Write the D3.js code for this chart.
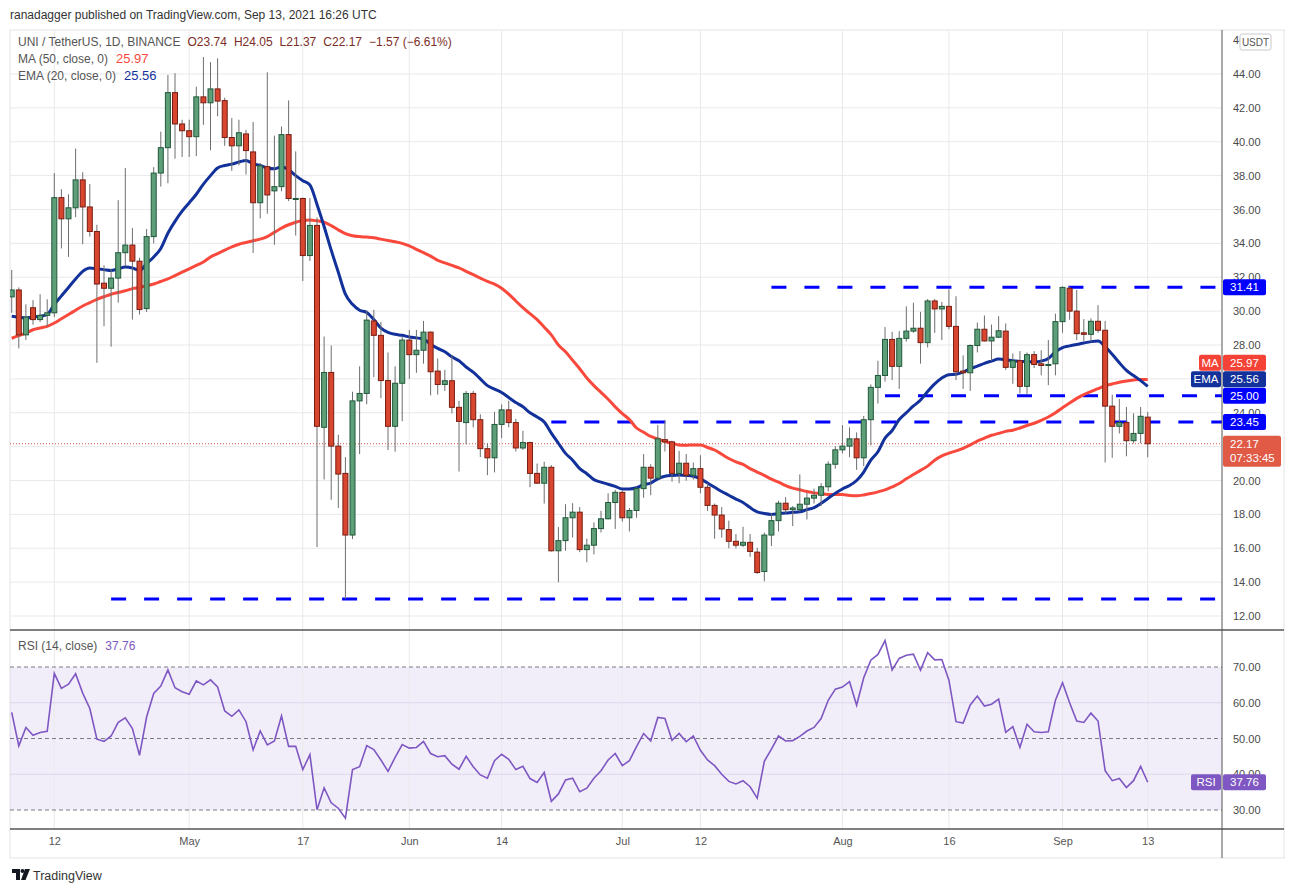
<!DOCTYPE html>
<meta charset="utf-8">
<style>
  body { margin: 0; background: #fff; }
  svg { font-family: "Liberation Sans", Arial, sans-serif; }
  .tick text { font-size: 11px; fill: #4a4a4a; }
  .grid line { stroke: #e9e9ec; stroke-width: 1px; }
</style>
<body>
<script src="https://d3js.org/d3.v7.min.js"></script>
<script>

  // first candle is 2021-04-06, one candle per day
  var firstDay = Date.UTC(2021, 3, 6);

  // [open, high, low, close]
  var ohlc = [
    [30.84,32.43,29.9,31.25],[31.25,31.4,27.8,28.6],[28.6,30.4,28.3,29.65],[30.2,30.65,29.2,29.5],
    [29.5,31.0,29.35,29.75],[29.75,30.7,29.1,29.9],[29.9,38.15,29.65,36.7],[36.7,37.2,33.7,35.45],
    [35.45,36.9,33.2,36.1],[36.1,39.6,35.55,37.75],[37.75,38.2,33.95,36.15],[36.15,37.5,34.4,34.7],
    [34.7,35.1,26.95,31.6],[31.65,32.7,29.1,31.35],[31.35,32.5,27.9,31.95],[31.95,36.55,30.5,33.45],
    [33.45,38.45,32.65,33.9],[33.9,34.9,29.5,32.95],[32.95,33.15,29.8,30.1],[30.15,34.85,29.95,34.4],
    [34.4,38.5,34.0,38.15],[38.15,40.6,37.35,39.65],[39.65,43.95,37.55,42.9],[42.9,44.05,39.0,41.05],
    [41.05,41.3,39.1,40.65],[40.65,41.3,39.1,40.3],[40.3,43.25,39.15,42.65],[42.65,45.0,41.0,42.3],
    [42.3,44.7,39.5,43.12],[43.12,44.92,41.5,42.4],[42.43,42.6,39.76,40.25],[40.25,41.4,38.28,39.76],
    [39.76,41.3,38.6,40.53],[40.46,40.7,38.06,39.48],[39.4,41.17,33.43,36.4],[36.4,38.75,35.47,38.58],
    [38.53,44.1,35.75,36.86],[37.1,40.36,33.92,37.35],[37.35,40.9,37.08,40.42],[40.42,42.44,36.5,36.65],
    [36.65,39.43,34.46,36.65],[36.65,36.7,31.78,33.28],[33.28,36.67,32.96,35.06],[35.06,35.53,16.07,23.2],
    [23.14,28.5,20.06,26.38],[26.38,27.97,18.86,22.03],[22.03,22.7,18.38,20.38],[20.42,21.38,13.0,16.78],
    [16.78,25.24,16.54,24.7],[24.7,26.74,21.56,25.14],[25.14,30.05,24.5,29.47],[29.42,30.07,26.1,28.57],
    [28.57,29.36,24.86,25.9],[25.9,27.56,21.8,23.2],[23.2,26.74,21.7,25.74],[25.74,28.5,23.5,28.29],
    [28.29,28.89,26.0,27.43],[27.43,28.89,26.36,27.69],[27.69,29.42,26.9,28.76],[28.76,28.8,25.03,26.42],
    [26.46,27.2,25.07,25.67],[25.67,26.53,25.29,25.89],[25.89,27.39,23.96,24.32],[24.32,24.71,20.53,23.49],
    [23.42,25.29,22.13,25.14],[25.14,25.29,23.14,23.59],[23.59,23.91,21.38,21.88],[21.88,22.2,20.31,21.34],
    [21.34,24.06,20.48,23.31],[23.31,24.49,22.5,24.17],[24.17,24.71,23.14,23.42],[23.42,23.64,21.71,21.92],
    [21.92,22.93,21.81,22.24],[22.24,22.28,19.6,20.42],[20.42,21.0,19.8,19.84],[19.84,21.11,18.64,20.78],
    [20.78,20.91,15.8,15.85],[15.85,17.25,13.99,16.45],[16.45,18.6,15.85,17.8],[17.8,18.66,16.63,18.13],
    [18.13,18.43,15.77,15.92],[15.92,16.56,15.17,16.18],[16.18,17.53,15.64,17.16],[17.16,18.21,16.93,17.74],
    [17.74,19.24,17.7,18.7],[18.7,19.45,17.14,19.3],[19.3,19.4,17.57,17.8],[17.8,18.38,16.99,18.23],
    [18.23,19.63,17.8,19.52],[19.52,21.56,18.98,20.78],[20.78,20.96,19.13,20.14],[20.14,23.27,20.1,22.46],
    [22.41,23.57,21.71,22.28],[22.28,22.35,19.93,20.42],[20.42,21.75,19.84,21.02],[21.02,21.56,19.99,20.31],
    [20.31,21.06,20.05,20.7],[20.7,21.49,19.24,19.6],[19.6,19.84,18.21,18.53],[18.53,18.64,16.56,17.96],
    [17.96,18.43,16.63,17.14],[17.1,17.63,16.0,16.41],[16.41,16.84,15.99,16.18],[16.18,17.27,16.07,16.35],
    [16.35,16.84,15.49,15.81],[15.77,16.03,14.48,14.57],[14.63,16.93,14.05,16.78],[16.78,18.06,16.13,17.63],
    [17.63,18.81,16.99,18.66],[18.66,19.02,18.06,18.28],[18.28,18.49,17.31,18.38],[18.28,20.36,18.17,18.6],
    [18.6,19.28,17.7,18.96],[18.96,19.52,18.64,19.13],[19.13,19.84,18.49,19.63],[19.63,21.13,19.35,20.96],
    [20.96,22.03,20.7,21.81],[21.81,23.27,21.6,22.03],[22.03,23.14,21.38,22.46],[22.46,22.84,20.63,21.34],
    [21.34,23.81,20.85,23.59],[23.59,25.67,22.07,25.5],[25.5,27.07,24.54,26.2],[26.2,29.06,25.84,28.33],
    [28.33,28.78,25.93,26.74],[26.74,28.82,25.41,28.39],[28.39,30.28,28.2,28.82],[28.82,30.5,28.72,28.99],
    [28.99,29.96,26.9,28.14],[28.14,30.71,27.86,30.6],[30.6,30.71,28.72,30.13],[30.13,30.54,28.29,30.28],
    [30.28,31.29,28.93,29.1],[29.1,30.88,25.93,26.42],[26.46,27.39,25.41,26.36],[26.36,28.03,25.29,27.97],
    [27.97,29.32,27.56,28.93],[28.93,29.74,28.2,28.24],[28.24,29.21,27.07,28.46],[28.46,29.7,28.41,28.84],
    [28.82,29.27,26.53,26.68],[26.68,27.5,25.71,27.07],[27.07,27.64,25.14,25.56],[25.56,27.56,25.07,27.43],
    [27.43,27.64,26.64,26.85],[26.89,27.69,26.21,26.79],[26.79,28.29,25.63,26.85],[26.89,29.85,26.21,29.38],
    [29.38,31.46,28.72,31.4],[31.35,31.46,29.49,30.0],[30.0,31.25,28.29,28.67],[28.72,29.53,28.24,28.63],
    [28.63,29.57,28.2,29.4],[29.4,30.35,28.72,28.87],[28.87,29.42,21.06,24.39],[24.39,25.07,21.34,23.2],
    [23.2,24.81,22.78,23.42],[23.42,24.34,21.43,22.35],[22.35,23.96,22.2,22.78],[22.78,24.34,22.2,23.79],
    [23.74,24.05,21.37,22.17]
  ];

  var ema20 = [
    29.7,29.65,29.6,29.65,29.7,29.8,30.4,30.9,31.4,31.9,32.35,32.55,32.5,32.45,32.4,32.5,32.6,32.55,32.4,32.8,
    33.2,33.7,34.6,35.3,35.9,36.4,36.9,37.5,38.0,38.45,38.6,38.68,38.8,38.9,38.7,38.6,38.45,38.4,38.53,38.35,
    38.0,37.7,37.45,36.3,35.0,33.6,32.3,31.0,30.4,30.05,29.92,29.5,29.0,28.75,28.63,28.57,28.47,28.42,28.35,28.05,
    27.8,27.6,27.3,27.07,26.7,26.4,26.0,25.6,25.4,25.2,24.9,24.6,24.35,24.0,23.75,23.45,22.8,22.2,21.6,21.2,
    20.7,20.4,20.05,19.9,19.78,19.65,19.5,19.5,19.57,19.75,19.85,20.1,20.25,20.3,20.32,20.3,20.25,20.1,19.85,19.6,
    19.35,19.13,18.9,18.7,18.4,18.15,18.05,18.0,18.05,18.08,18.12,18.15,18.28,18.4,18.65,18.95,19.25,19.5,19.7,20.0,
    20.5,21.2,21.7,22.5,22.95,23.6,24.0,24.4,24.75,25.25,25.7,26.05,26.25,26.27,26.4,26.6,26.75,26.92,27.05,27.17,
    27.13,27.07,27.03,27.02,27.0,27.05,27.2,27.6,27.85,27.95,28.03,28.12,28.2,28.24,27.9,27.45,26.95,26.5,26.2,25.9,
    25.56
  ];

  var ma50 = [
    28.4,28.55,28.7,28.9,29.0,29.1,29.3,29.55,29.8,30.05,30.3,30.5,30.7,30.85,31.0,31.1,31.2,31.33,31.4,31.5,
    31.6,31.75,31.9,32.1,32.3,32.5,32.7,32.9,33.2,33.4,33.6,33.8,33.95,34.05,34.15,34.25,34.4,34.65,34.9,35.1,
    35.25,35.35,35.38,35.33,35.25,35.05,34.8,34.57,34.45,34.4,34.37,34.33,34.25,34.17,34.1,34.0,33.85,33.65,33.45,33.25,
    33.0,32.85,32.7,32.55,32.35,32.15,31.95,31.75,31.6,31.35,31.0,30.6,30.2,29.85,29.5,29.05,28.6,28.0,27.6,27.1,
    26.6,26.05,25.6,25.2,24.8,24.35,23.95,23.6,23.1,22.85,22.6,22.45,22.3,22.2,22.1,22.08,22.1,22.1,21.95,21.8,
    21.55,21.3,21.1,20.95,20.7,20.5,20.3,20.08,19.9,19.7,19.55,19.45,19.35,19.27,19.22,19.18,19.18,19.17,19.12,19.1,
    19.15,19.23,19.33,19.45,19.62,19.82,20.1,20.35,20.6,20.85,21.2,21.45,21.62,21.75,21.9,22.1,22.33,22.5,22.67,22.78,
    22.9,22.97,23.1,23.25,23.38,23.55,23.75,24.0,24.3,24.57,24.85,25.07,25.25,25.42,25.6,25.7,25.8,25.87,25.93,25.97,
    25.97
  ];

  var rsi14 = [
    57.3,47.95,53.1,50.9,51.7,52.0,68.2,64.0,65.2,68.1,62.7,58.4,49.8,49.2,50.7,54.5,55.8,52.8,45.3,56.0,
    62.6,64.7,69.2,64.2,63.1,62.4,66.1,65.0,66.4,64.4,57.7,56.2,58.0,54.7,46.8,52.1,48.2,49.3,56.3,47.8,
    47.8,41.3,45.5,30.1,36.2,32.0,30.5,27.7,41.3,42.1,48.0,46.9,44.0,40.8,44.7,48.3,47.3,47.5,49.2,45.8,
    44.9,45.2,42.8,41.4,45.0,42.1,39.8,38.9,43.8,45.6,44.2,41.3,42.2,38.8,37.7,40.5,32.4,34.5,38.4,38.9,
    35.1,36.1,38.9,41.0,44.0,45.8,42.4,43.8,47.7,51.4,49.3,55.9,55.6,49.5,51.4,49.1,50.7,46.7,44.0,42.4,
    40.0,38.0,37.3,38.2,36.5,33.3,43.6,47.0,50.7,49.3,49.4,50.6,52.1,53.1,55.6,60.7,63.8,64.4,65.9,59.3,
    67.0,71.9,73.5,77.4,69.2,72.4,73.3,73.6,69.1,74.0,72.0,72.1,66.3,54.7,54.3,59.4,61.9,59.1,59.6,61.0,
    51.7,53.3,47.5,54.0,51.9,51.7,51.9,60.7,65.6,60.0,54.9,54.5,57.1,54.9,41.0,38.2,38.8,36.3,38.2,42.2,
    37.76
  ];

  // horizontal levels drawn on the chart
  var levelPrices = [31.41, 25.00, 23.45, 13.00];
  var levelStarts = ["2021-07-22", "2021-08-07", "2021-06-21", "2021-04-20"];

  var priceTicks = [12,14,16,18,20,22,24,26,28,30,32,34,36,38,40,42,44,46];
  var rsiTicks = [30,40,50,60,70];
  var dateTicks = ["2021-04-12","2021-05-01","2021-05-17","2021-06-01","2021-06-14",
                   "2021-07-01","2021-07-12","2021-08-01","2021-08-16","2021-09-01","2021-09-13"];

  var lastPrice = 22.17, lastMA = 25.97, lastEMA = 25.56, lastRSI = 37.76;

  // ---------------------------------------------------------------------
  var W = 1295, H = 893;
  var left = 10, right = 1222;
  var mainTop = 31, mainBottom = 630, rsiTop = 631, rsiBottom = 829, axisBottom = 858;
  var DAY = 864e5;
  var apr12 = Date.UTC(2021, 3, 12);

  var x = d3.scaleUtc()
    .domain([new Date(apr12 - 6.24 * DAY), new Date(apr12 + 164.46 * DAY)])
    .range([left, right]);
  var y = d3.scaleLinear().domain([12, 44]).range([616, 74]);
  var yR = d3.scaleLinear().domain([30, 70]).range([810, 667]);

  function day(i) { return new Date(firstDay + i * DAY); }
  var parse = d3.utcParse("%Y-%m-%d");

  var svg = d3.select("body").append("svg")
    .attr("width", W).attr("height", H);

  var defs = svg.append("defs");
  defs.append("clipPath").attr("id", "clipMain").append("rect")
    .attr("x", left).attr("y", mainTop).attr("width", right - left).attr("height", mainBottom - mainTop);
  defs.append("clipPath").attr("id", "clipRsi").append("rect")
    .attr("x", left).attr("y", rsiTop).attr("width", right - left).attr("height", rsiBottom - rsiTop);
  // in a tick's own coordinates: keeps only the first digit of the top label
  defs.append("clipPath").attr("id", "clipTop").append("rect")
    .attr("x", 0).attr("y", -10).attr("width", 17.5).attr("height", 20);

  // top caption
  svg.append("text").attr("x", 10).attr("y", 19)
    .style("font-size", "12px").style("fill", "#333")
    .text("ranadagger published on TradingView.com, Sep 13, 2021 16:26 UTC");

  // frame
  svg.append("rect").attr("x", left).attr("y", 30).attr("width", 1284 - left).attr("height", axisBottom - 30)
    .style("fill", "none").style("stroke", "#e3e3e6");

  // RSI band
  svg.append("rect").attr("x", left).attr("y", yR(70)).attr("width", right - left).attr("height", yR(30) - yR(70))
    .style("fill", "#7e57c2").style("fill-opacity", 0.1);

  // grids
  var grid = svg.append("g").attr("class", "grid");
  grid.selectAll(".v").data(dateTicks).enter().append("line")
    .attr("x1", function (d) { return x(parse(d)); }).attr("x2", function (d) { return x(parse(d)); })
    .attr("y1", mainTop).attr("y2", rsiBottom);
  grid.selectAll(".h").data(priceTicks.filter(function (d) { return d <= 44; })).enter().append("line")
    .attr("x1", left).attr("x2", right)
    .attr("y1", function (d) { return y(d); }).attr("y2", function (d) { return y(d); });
  grid.selectAll(".hr").data([40, 60]).enter().append("line")
    .attr("x1", left).attr("x2", right)
    .attr("y1", function (d) { return yR(d); }).attr("y2", function (d) { return yR(d); })
    .style("stroke", "#dcd6ea");

  // RSI dashed bounds
  svg.append("g").selectAll("line").data([70, 50, 30]).enter().append("line")
    .attr("x1", left).attr("x2", right)
    .attr("y1", function (d) { return yR(d); }).attr("y2", function (d) { return yR(d); })
    .style("stroke", "#7b7b85").style("stroke-dasharray", "4,3");

  // ---------------- main pane ----------------
  var main = svg.append("g").attr("clip-path", "url(#clipMain)");

  // last price dotted line
  main.append("line").attr("x1", left).attr("x2", right)
    .attr("y1", y(lastPrice)).attr("y2", y(lastPrice))
    .style("stroke", "#d9534f").style("stroke-dasharray", "1,2");

  // levels
  main.selectAll(".level").data(levelPrices).enter().append("line")
    .attr("x1", function (d, i) { return x(parse(levelStarts[i])); })
    .attr("x2", right)
    .attr("y1", function (d) { return y(d); }).attr("y2", function (d) { return y(d); })
    .style("stroke", "#0000ff").style("stroke-width", 3).style("stroke-dasharray", "15,18");

  // moving averages
  var lineMain = d3.line()
    .x(function (d, i) { return x(day(i)); })
    .y(function (d) { return y(d); })
    .curve(d3.curveMonotoneX);
  main.append("path").datum(ma50).attr("d", lineMain)
    .style("fill", "none").style("stroke", "#f8493c").style("stroke-width", 3);
  main.append("path").datum(ema20).attr("d", lineMain)
    .style("fill", "none").style("stroke", "#12319a").style("stroke-width", 3);

  // candles
  var candle = main.selectAll(".candle").data(ohlc).enter().append("g");
  candle.append("line")
    .attr("x1", function (d, i) { return x(day(i)); }).attr("x2", function (d, i) { return x(day(i)); })
    .attr("y1", function (d) { return y(d[1]); }).attr("y2", function (d) { return y(d[2]); })
    .style("stroke", "#6e6e70").style("stroke-width", 1);
  candle.append("rect")
    .attr("x", function (d, i) { return x(day(i)) - 2.5; })
    .attr("width", 5)
    .attr("y", function (d) { return y(Math.max(d[0], d[3])); })
    .attr("height", function (d) { return Math.max(1, Math.abs(y(d[0]) - y(d[3]))); })
    .style("fill", function (d) { return d[3] >= d[0] ? "#5e9e79" : "#d9462f"; })
    .style("stroke", function (d) { return d[3] >= d[0] ? "#20593a" : "#771d12"; })
    .style("stroke-width", 1);

  // ---------------- RSI pane ----------------
  var rsiG = svg.append("g").attr("clip-path", "url(#clipRsi)");
  rsiG.append("path").datum(rsi14)
    .attr("d", d3.line().x(function (d, i) { return x(day(i)); }).y(function (d) { return yR(d); }))
    .style("fill", "none").style("stroke", "#7e57c2").style("stroke-width", 1.6);

  // pane separators and axis lines
  svg.append("line").attr("x1", left).attr("x2", 1284).attr("y1", mainBottom).attr("y2", mainBottom)
    .style("stroke", "#555").style("stroke-width", 1.5);
  svg.append("line").attr("x1", left).attr("x2", 1284).attr("y1", rsiBottom).attr("y2", rsiBottom)
    .style("stroke", "#555").style("stroke-width", 1.5);
  svg.append("line").attr("x1", right).attr("x2", right).attr("y1", 30).attr("y2", axisBottom)
    .style("stroke", "#555").style("stroke-width", 1);

  // axis value labels, pushed up where they would overlap
  var tags = [
    { v: lastPrice, c: "#e05a46", t: null, big: true },
    { v: 23.45, c: "#0000ff", t: null },
    { v: 25.00, c: "#0000ff", t: null },
    { v: lastEMA, c: "#12319a", t: "EMA" },
    { v: lastMA, c: "#f44336", t: "MA" },
    { v: 31.41, c: "#0000ff", t: null }
  ];
  var prevTop = 1e9;
  tags.forEach(function (d) {
    var cy = y(d.v);
    if (cy + 8 > prevTop) cy = prevTop - 8.5;
    d.cy = cy;
    d.top = cy - 8;
    d.bottom = cy - 8 + (d.big ? 31 : 16);
    prevTop = cy - 8;
  });

  // price tick labels that sit fully behind a tag box are not visible
  function hidden(v) {
    var ty = y(v);
    return tags.some(function (d) { return ty - 4 >= d.top && ty + 4 <= d.bottom; });
  }

  // price axis
  var pAxis = svg.append("g").attr("transform", "translate(" + right + ",0)")
    .call(d3.axisRight(y).tickValues(priceTicks.filter(function (v) { return !hidden(v); }))
      .tickSize(0).tickPadding(11).tickFormat(d3.format(".2f")));
  pAxis.select(".domain").remove();
  // the top label is cut by the currency box
  pAxis.selectAll(".tick").filter(function (d) { return d === 46; })
    .select("text").attr("clip-path", "url(#clipTop)");

  var rAxis = svg.append("g").attr("transform", "translate(" + right + ",0)")
    .call(d3.axisRight(yR).tickValues(rsiTicks).tickSize(0).tickPadding(11).tickFormat(d3.format(".2f")));
  rAxis.select(".domain").remove();

  var fmtDate = function (d) {
    return d.getUTCDate() === 1 ? d3.utcFormat("%b")(d) : d3.utcFormat("%-d")(d);
  };
  var xAxis = svg.append("g").attr("transform", "translate(0," + rsiBottom + ")")
    .call(d3.axisBottom(x).tickValues(dateTicks.map(parse)).tickSize(0).tickPadding(8).tickFormat(fmtDate));
  xAxis.select(".domain").remove();
  xAxis.selectAll("text").style("fill", "#555");

  // currency box at the top of the price axis
  svg.append("rect").attr("x", 1240).attr("y", 34).attr("width", 31).attr("height", 16)
    .style("fill", "#fff").style("stroke", "#c9c9cc").attr("rx", 2);
  svg.append("text").attr("x", 1255.5).attr("y", 46).attr("text-anchor", "middle")
    .style("font-size", "10px").style("fill", "#555").text("USDT");

  function valueTag(cy, value, color, tag, big) {
    var g = svg.append("g");
    g.append("rect").attr("x", right + 1).attr("y", cy - 8).attr("width", big ? 58 : 43)
      .attr("height", big ? 31 : 16).attr("rx", 2).style("fill", color);
    g.append("text").attr("x", right + 8).attr("y", cy + 4)
      .style("font-size", "11.5px").style("fill", "#fff").text(d3.format(".2f")(value));
    if (big) {
      g.append("text").attr("x", right + 8).attr("y", cy + 18)
        .style("font-size", "11.5px").style("fill", "#fff").text("07:33:45");
    }
    if (tag) {
      var w = tag.length * 8 + 6;
      g.append("rect").attr("x", right - 1 - w).attr("y", cy - 8).attr("width", w).attr("height", 16)
        .attr("rx", 2).style("fill", color);
      g.append("text").attr("x", right - 1 - w / 2).attr("y", cy + 4).attr("text-anchor", "middle")
        .style("font-size", "11.5px").style("fill", "#fff").text(tag);
    }
  }
  tags.forEach(function (d) { valueTag(d.cy, d.v, d.c, d.t, d.big); });
  valueTag(yR(lastRSI), lastRSI, "#7e57c2", "RSI");

  // legends
  var leg = svg.append("g").style("font-size", "12px");
  var l1 = leg.append("text").attr("x", 18).attr("y", 46).style("fill", "#555");
  l1.append("tspan").text("UNI / TetherUS, 1D, BINANCE");
  var last = ohlc[ohlc.length - 1];
  [["O", last[0]], ["H", last[1]], ["L", last[2]], ["C", last[3]]].forEach(function (p) {
    l1.append("tspan").attr("dx", 7).style("fill", "#7b2d26").text(p[0]);
    l1.append("tspan").style("fill", "#7b2d26").text(d3.format(".2f")(p[1]));
  });
  l1.append("tspan").attr("dx", 7).style("fill", "#7b2d26").text("\u22121.57 (\u22126.61%)");

  var l2 = leg.append("text").attr("x", 18).attr("y", 63).style("fill", "#555");
  l2.append("tspan").text("MA (50, close, 0)");
  l2.append("tspan").attr("dx", 8).style("fill", "#f8493c").style("font-size", "13px").text(d3.format(".2f")(lastMA));
  var l3 = leg.append("text").attr("x", 18).attr("y", 80).style("fill", "#555");
  l3.append("tspan").text("EMA (20, close, 0)");
  l3.append("tspan").attr("dx", 8).style("fill", "#12319a").style("font-size", "13px").text(d3.format(".2f")(lastEMA));
  var l4 = leg.append("text").attr("x", 18).attr("y", 650).style("fill", "#555");
  l4.append("tspan").text("RSI (14, close)");
  l4.append("tspan").attr("dx", 8).style("fill", "#7e57c2").text(d3.format(".2f")(lastRSI));

  // TradingView mark
  var logo = svg.append("g").attr("transform", "translate(12,869)");
  logo.append("path").attr("d", "M0,0 H8 V11 H4 V4 H0 Z").style("fill", "#131722");
  logo.append("circle").attr("cx", 10.5).attr("cy", 2).attr("r", 2).style("fill", "#131722");
  logo.append("path").attr("d", "M13,0 H18 L13.5,11 H9 Z").style("fill", "#131722");
  svg.append("text").attr("x", 33).attr("y", 880).style("font-size", "12.5px").style("fill", "#333")
    .text("TradingView");
</script>
</body>
